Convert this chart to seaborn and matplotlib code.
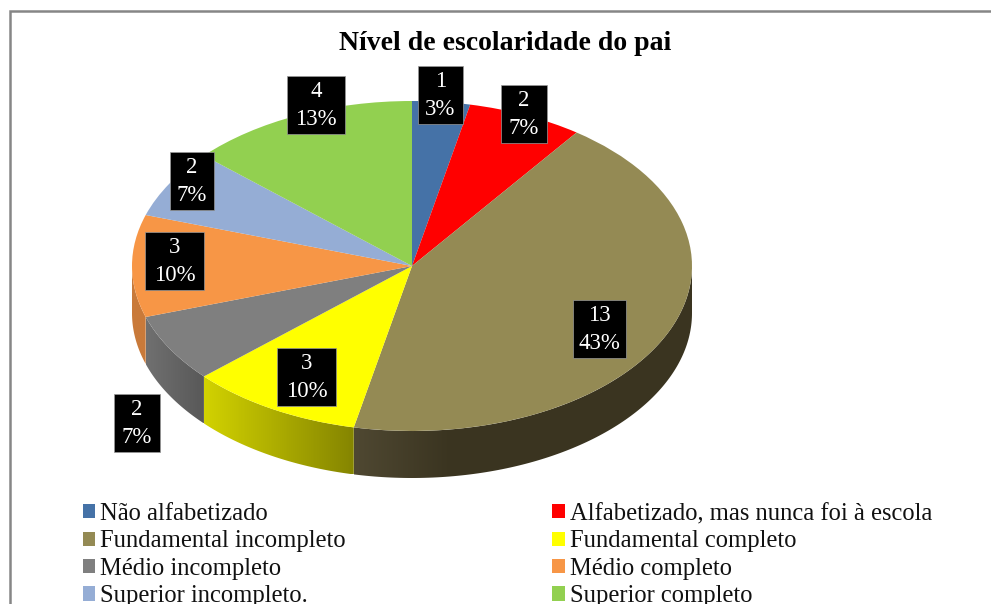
import numpy as np
import seaborn as sns
import matplotlib
matplotlib.use("Agg")
import matplotlib.pyplot as plt
from matplotlib.colors import LinearSegmentedColormap
from matplotlib.lines import Line2D
from matplotlib.patches import Polygon, Rectangle

categories = ["Não alfabetizado", "Alfabetizado, mas nunca foi à escola",
              "Fundamental incompleto", "Fundamental completo",
              "Médio incompleto", "Médio completo",
              "Superior incompleto.", "Superior completo"]
values = [1, 2, 13, 3, 2, 3, 2, 4]
percent_labels = ["3%", "7%", "43%", "10%", "7%", "10%", "7%", "13%"]
colors = ["#4572A7", "#FF0000", "#948A54", "#FFFF00",
          "#7F7F7F", "#F79646", "#95ADD5", "#92D050"]
side_left = ["#35567e", "#c00000", "#4f4832", "#d2d200",
             "#707070", "#c97a3a", "#7a8db0", "#76a840"]
side_right = ["#35567e", "#c00000", "#3a3420", "#858500",
              "#585858", "#c97a3a", "#7a8db0", "#76a840"]
# label boxes: left, top, right, bottom in pixels
label_boxes = [(418, 66, 463, 124), (501, 85, 547, 143), (573, 300, 626, 358),
               (277, 348, 336, 406), (114, 394, 160, 452), (145, 232, 204, 290),
               (170, 152, 214, 210), (287, 76, 345, 134)]

W, H = 991, 604
CX, CY, RX, RY, DEPTH = 412, 266, 280, 165, 47

sns.set_theme(style="white")
plt.rcParams["font.family"] = ["Liberation Serif", "DejaVu Serif"]

fig = plt.figure(figsize=(W / 100, H / 100), dpi=100, facecolor="white")
ax = fig.add_axes([0, 0, 1, 1])
palette = sns.color_palette(colors)
wedges, _ = ax.pie(values, colors=palette, startangle=90, counterclock=False,
                   radius=1, center=(0, 0), wedgeprops={"linewidth": 0, "zorder": 5})
ax.set_aspect("auto")
xlim = (-CX / RX, (W - CX) / RX)
ylim = (-(H - CY) / RY, CY / RY)
d = DEPTH / RY

# extruded rim: one gradient per front-facing slice
for w, cl, cr in zip(wedges, side_left, side_right):
    a1, a2 = min(w.theta1, w.theta2), max(w.theta1, w.theta2)
    a1m, a2m = a1 % 360, a1 % 360 + (a2 - a1)
    lo, hi = max(a1m, 180), min(a2m, 360)
    if hi <= lo:
        continue
    t = np.radians(np.linspace(lo, hi, 120))
    x, y = np.cos(t), np.sin(t)
    poly = np.vstack([np.c_[x, y], np.c_[x[::-1], y[::-1] - d]])
    clip = Polygon(poly, closed=True, transform=ax.transData, facecolor="none", edgecolor="none")
    ax.add_patch(clip)
    # the brown rim reaches its dark tone soon after its left edge
    span_right = x.max() if cl != "#4f4832" else x.min() + 0.35
    cmap = LinearSegmentedColormap.from_list("rim", [cl, cr])
    grad = np.linspace(0, 1, 128)[None, :]
    im = ax.imshow(grad, cmap=cmap, aspect="auto", zorder=3,
                   extent=(x.min(), span_right, (y - d).min(), y.max()))
    if span_right < x.max():
        im2 = ax.imshow(np.ones((1, 2)), cmap=cmap, vmin=0, vmax=1, aspect="auto", zorder=3,
                        extent=(span_right, x.max(), (y - d).min(), y.max()))
        im2.set_clip_path(clip)
    im.set_clip_path(clip)
ax.set_xlim(xlim)
ax.set_ylim(ylim)
ax.axis("off")


def fx(px):
    return px / W


def fy(py):
    return 1 - py / H


# frame: only the top and left edges are inside the crop
fig.add_artist(Line2D([fx(9.5), fx(9.5), 1], [0, fy(11), fy(11)], transform=fig.transFigure,
                      color="#868686", linewidth=1.8, solid_joinstyle="miter", zorder=1))

fig.text(fx(505.5), fy(43), "Nível de escolaridade do pai", ha="center", va="center",
         fontsize=20, fontweight="bold", color="black")

for (l, t, r, b), v, p in zip(label_boxes, values, percent_labels):
    fig.add_artist(Rectangle((fx(l), fy(b)), fx(r - l), fy(t) - fy(b), transform=fig.transFigure,
                             facecolor="black", edgecolor="#999999", linewidth=0.5, zorder=8))
    fig.text(fx((l + r) / 2), fy((t + b) / 2 + 0.5), f"{v}\n{p}", ha="center", va="center",
             fontsize=16.5, color="white", linespacing=1.45, zorder=9)

order = [0, 2, 4, 6, 1, 3, 5, 7]
leg = ax.legend([wedges[i] for i in order], [categories[i] for i in order], ncol=2,
                loc="upper left", bbox_to_anchor=(fx(83), fy(503)), bbox_transform=fig.transFigure,
                frameon=False, fontsize=17.7, labelspacing=0.22, handlelength=0.5, handleheight=0.5,
                handletextpad=0.2, columnspacing=8.4, borderaxespad=0, borderpad=0,
                labelcolor="#111111")
leg.set_zorder(10)

fig.savefig("out.png", dpi=100)
